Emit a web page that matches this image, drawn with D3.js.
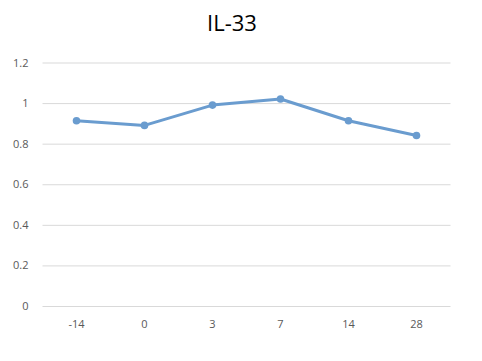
<!DOCTYPE html>
<html><head><meta charset="utf-8">
<script src="https://cdn.jsdelivr.net/npm/d3@7"></script>
<style>body{margin:0;background:#fff;}svg{display:block;}</style>
</head><body>
<svg id="chart" width="482" height="361"></svg>
<script>
const title = "IL-33";
const categories = ["-14", "0", "3", "7", "14", "28"];
const values = [0.913, 0.89, 0.99, 1.02, 0.913, 0.84];
const yTicks = [0, 0.2, 0.4, 0.6, 0.8, 1, 1.2];

(function () {
const svg = d3.select("#chart");
const mLeft = 42.5, mRight = 450.5, mTop = 62.5, mBottom = 306;
const x = d3.scaleBand().domain(categories).range([mLeft, mRight]);
const y = d3.scaleLinear().domain([0, 1.2]).range([mBottom, mTop]);
const font = "'Open Sans', 'Liberation Sans', sans-serif";

svg.append("text").attr("x", 232).attr("y", 31).attr("text-anchor", "middle")
  .attr("font-family", font).attr("font-size", 22).attr("fill", "#000").text(title);

const yAxis = svg.append("g").attr("transform", `translate(${mLeft},0)`)
  .call(d3.axisLeft(y).tickValues(yTicks).tickSize(-(mRight - mLeft)).tickFormat(d => String(d)));
yAxis.select(".domain").remove();
yAxis.selectAll(".tick line").attr("stroke", "#d9d9d9").attr("stroke-width", 1);
yAxis.selectAll(".tick text").attr("x", -14).attr("fill", "#595959")
  .attr("font-family", font).attr("font-size", 11);

const xAxis = svg.append("g").attr("transform", `translate(0,${mBottom})`)
  .call(d3.axisBottom(x).tickSize(0));
xAxis.select(".domain").remove();
xAxis.selectAll(".tick text").attr("dy", "0").attr("y", 22).attr("fill", "#595959")
  .attr("font-family", font).attr("font-size", 11);

const cx = d => x(d) + x.bandwidth() / 2;
const line = d3.line().x((d, i) => cx(categories[i])).y(d => y(d));
svg.append("path").datum(values).attr("d", line).attr("fill", "none")
  .attr("stroke", "#6a9ccf").attr("stroke-width", 3).attr("stroke-linejoin", "round");
svg.selectAll("circle.pt").data(values).enter().append("circle").attr("class", "pt")
  .attr("cx", (d, i) => cx(categories[i])).attr("cy", d => y(d)).attr("r", 3.8)
  .attr("fill", "#6a9ccf");
})();
</script>
</body></html>
